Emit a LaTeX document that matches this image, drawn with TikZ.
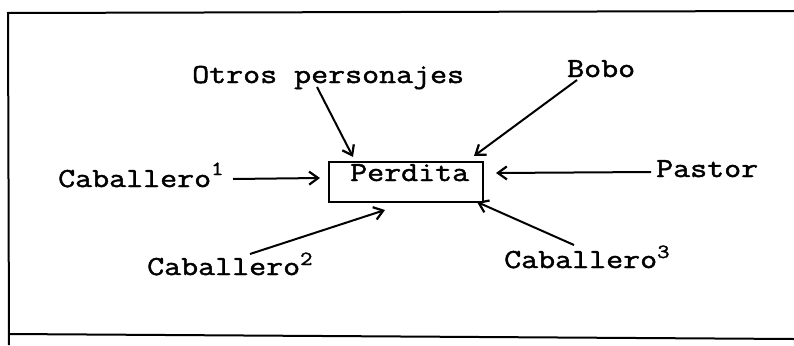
\documentclass[tikz,border=0pt]{standalone}
\usepackage{fontspec}
\newfontfamily\tw[FakeBold=1.6,FakeStretch=1.2]{Latin Modern Mono}
\usetikzlibrary{arrows.meta}
\tikzset{
  lbl/.style={anchor=base west, inner sep=0pt, font=\tw\fontsize{27.5}{30}\selectfont},
  arr/.style={line width=2pt, -{Straight Barb[length=9pt,width=13pt,line width=2.2pt]}},
  frame/.style={line width=2pt},
}
\newcommand{\supr}[2]{\raisebox{#1pt}{\fontsize{20}{20}\selectfont #2}}
\begin{document}
\begin{tikzpicture}[x=1pt,y=-1pt]
\useasboundingbox (0,0) rectangle (794,345);
% frame
\coordinate (ftl) at (8,13);
\coordinate (ftr) at (794,11);
\coordinate (fbl) at (9,345);
\coordinate (fbm) at (9,334);
\coordinate (fbr) at (794,339);
\draw[frame] (ftr) -- (ftl) -- (fbl);
\draw[frame] (fbm) -- (fbr);
% box
\node[draw, line width=2pt, minimum width=154pt, minimum height=40pt, inner sep=0pt] (box) at (406,181.5) {};
\node[lbl] (perdita) at (350,181) {Perdita};
% labels
\node[lbl] (otros) at (192,83) {Otros personajes};
\node[lbl] (bobo) at (567,77) {Bobo};
\node[lbl] (cab1) at (58,187) {Caballero\supr{12}{1}};
\node[lbl] (pastor) at (656,177) {Pastor};
\node[lbl] (cab2) at (147,275) {Caballero\supr{10}{2}};
\node[lbl] (cab3) at (504,268) {Caballero\supr{10}{3}};
% arrow endpoints
\coordinate (os) at (317,87);  \coordinate (oe) at (353,157);
\coordinate (bs) at (577,80);  \coordinate (be) at (474,156);
\coordinate (c1s) at (233,179); \coordinate (c1e) at (320,178);
\coordinate (ps) at (651,172); \coordinate (pe) at (496,173);
\coordinate (c2s) at (250,254); \coordinate (c2e) at (385,210);
\coordinate (c3s) at (574,245); \coordinate (c3e) at (477,202);
\draw[arr] (os) -- (oe);
\draw[arr] (bs) -- (be);
\draw[arr] (c1s) -- (c1e);
\draw[arr] (ps) -- (pe);
\draw[arr] (c2s) -- (c2e);
\draw[arr] (c3s) -- (c3e);
\end{tikzpicture}
\end{document}
